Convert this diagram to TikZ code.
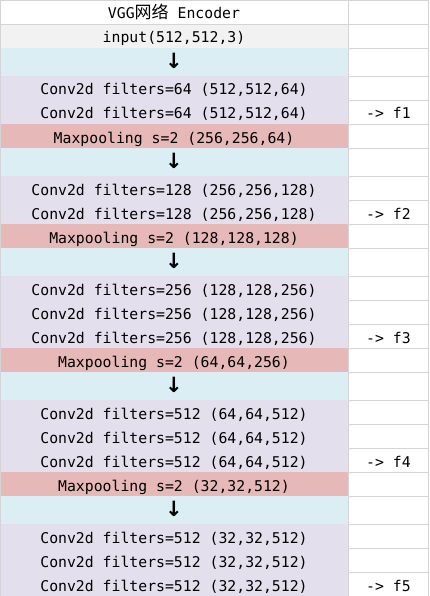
\documentclass[tikz,border=0pt]{standalone}
\usepackage{fontspec}
\setmainfont{DejaVu Sans Mono}
\newfontfamily\cjk[Scale=1.15]{Noto Sans CJK SC}
\newfontfamily\arrowfont{DejaVu Sans}
\definecolor{cblue}{HTML}{DAEEF3}
\definecolor{clav}{HTML}{E4DFEC}
\definecolor{cpink}{HTML}{E6B8B7}
\definecolor{cgray}{HTML}{F2F2F2}
\definecolor{cgrid}{HTML}{D4D4D4}
\newcommand\vrow[5]{%
  \fill[#3] (0,#1) rectangle (348,#2);
  \draw[gridline] (348,#1) -- (429,#1);
  \node[celltext] (#5) at (174,{#2-5}) {#4};
}
\newcommand\flabel[3]{%
  \node[celltext] (#3) at (388.5,{#1-5}) {#2};
}
\begin{document}
\begin{tikzpicture}[x=1pt,y=-1pt,
  gridline/.style={draw=cgrid,line width=0.9pt},
  celltext/.style={anchor=base,inner sep=0pt,font=\fontsize{14.8}{16}\selectfont,text=black},
  arrowtext/.style={anchor=south,inner sep=0pt,font=\arrowfont\bfseries\fontsize{21}{22}\selectfont,text=black}]
\useasboundingbox (0,0) rectangle (429,596);
\fill[white] (0,0) rectangle (429,596);
\vrow{0}{24}{white}{VGG{\cjk 网络} Encoder}{t0}
\vrow{24}{48}{cgray}{input(512,512,3)}{t1}
\vrow{48}{76}{cblue}{}{t2}
\vrow{76}{100}{clav}{Conv2d filters=64 (512,512,64)}{t3}
\vrow{100}{124}{clav}{Conv2d filters=64 (512,512,64)}{t4}
\vrow{124}{148}{cpink}{Maxpooling s=2 (256,256,64)}{t5}
\vrow{148}{176}{cblue}{}{t6}
\vrow{176}{200}{clav}{Conv2d filters=128 (256,256,128)}{t7}
\vrow{200}{224}{clav}{Conv2d filters=128 (256,256,128)}{t8}
\vrow{224}{248}{cpink}{Maxpooling s=2 (128,128,128)}{t9}
\vrow{248}{276}{cblue}{}{t10}
\vrow{276}{300}{clav}{Conv2d filters=256 (128,128,256)}{t11}
\vrow{300}{324}{clav}{Conv2d filters=256 (128,128,256)}{t12}
\vrow{324}{348}{clav}{Conv2d filters=256 (128,128,256)}{t13}
\vrow{348}{372}{cpink}{Maxpooling s=2 (64,64,256)}{t14}
\vrow{372}{400}{cblue}{}{t15}
\vrow{400}{424}{clav}{Conv2d filters=512 (64,64,512)}{t16}
\vrow{424}{448}{clav}{Conv2d filters=512 (64,64,512)}{t17}
\vrow{448}{472}{clav}{Conv2d filters=512 (64,64,512)}{t18}
\vrow{472}{496}{cpink}{Maxpooling s=2 (32,32,512)}{t19}
\vrow{496}{524}{cblue}{}{t20}
\vrow{524}{548}{clav}{Conv2d filters=512 (32,32,512)}{t21}
\vrow{548}{572}{clav}{Conv2d filters=512 (32,32,512)}{t22}
\vrow{572}{596}{clav}{Conv2d filters=512 (32,32,512)}{t23}
% arrows
\node[arrowtext] (a1) at (174,69) {↓};
\node[arrowtext] (a2) at (174,169) {↓};
\node[arrowtext] (a3) at (174,269) {↓};
\node[arrowtext] (a4) at (174,393) {↓};
\node[arrowtext] (a5) at (174,517) {↓};
% right labels
\flabel{124}{-> f1}{f1}
\flabel{224}{-> f2}{f2}
\flabel{348}{-> f3}{f3}
\flabel{472}{-> f4}{f4}
\flabel{596}{-> f5}{f5}
% borders
\draw[gridline] (0,0.45) -- (429,0.45);
\draw[gridline] (0.45,0) -- (0.45,596);
\draw[gridline] (348.5,0) -- (348.5,596);
\draw[gridline] (428,0) -- (428,596);
\draw[gridline] (0,24) -- (348,24);
\end{tikzpicture}
\end{document}
